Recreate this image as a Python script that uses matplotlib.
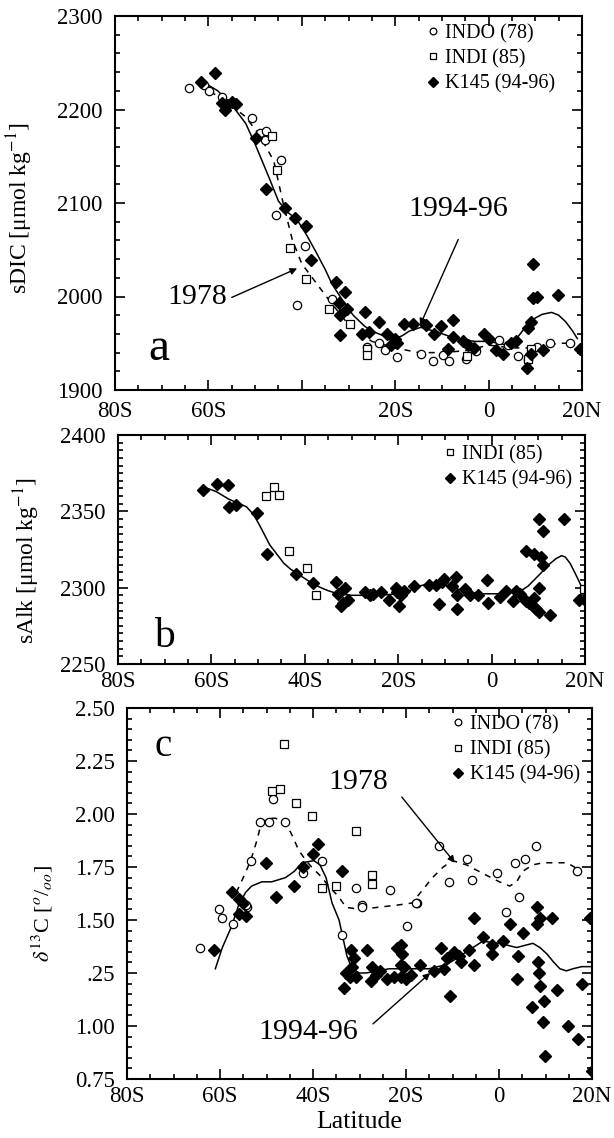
import matplotlib
matplotlib.use("Agg")
from matplotlib import pyplot as plt
from matplotlib.ticker import MultipleLocator, FixedLocator, FixedFormatter

plt.rcParams['font.family'] = ['Liberation Serif', 'DejaVu Serif']
plt.rcParams['mathtext.fontset'] = 'stix'

# ---- panel a: sDIC ----
a_indo_lat = [-64.1, -61.0, -59.8, -57.1, -50.7, -49.0, -47.7, -47.9, -44.5, -45.6, -39.4, -41.1, -33.5,
              -26.1, -23.5, -22.2, -19.7, -14.4, -11.8, -9.7, -8.4, -4.8, -2.7, 0.0, 2.2, 4.1, 6.4, 8.5,
              10.4, 13.2, 17.5]
a_indo_val = [2223, 2226, 2220, 2213, 2191, 2175, 2177, 2167, 2146, 2087, 2054, 1991, 1997,
              1946, 1950, 1943, 1935, 1938, 1931, 1937, 1931, 1933, 1942, 1955, 1954, 1948, 1936, 1932,
              1946, 1950, 1950]
a_indi_lat = [-46.4, -45.4, -42.6, -39.0, -34.1, -29.7, -26.1, -26.1, -4.6, 9.0, 8.5]
a_indi_val = [2172, 2135, 2052, 2019, 1987, 1971, 1944, 1937, 1936, 1944, 1933]
a_k145_lat = [-58.5, -61.5, -57.0, -56.0, -55.0, -54.0, -56.5, -49.9, -47.7, -43.7, -41.4, -39.2, -38.0,
              -32.7, -30.7, -32.0, -30.3, -31.8, -26.5, -31.8, -27.1, -25.6, -23.5, -21.8, -20.1, -19.7,
              -20.8, -18.2, -16.1, -13.3, -11.6, -10.2, -7.6, -8.7, -7.6, -5.5, -4.4, -3.1, -1.0, 0.0,
              1.5, 3.0, 4.7, 5.8, 8.5, 9.0, 9.6, 9.6, 10.4, 8.3, 9.0, 11.7, 14.9, 19.6]
a_k145_val = [2239, 2229, 2207, 2205, 2208, 2206, 2200, 2170, 2115, 2095, 2084, 2075, 2039,
              2016, 2005, 1993, 1987, 1980, 1983, 1959, 1960, 1962, 1973, 1960, 1955, 1950,
              1948, 1971, 1971, 1970, 1960, 1968, 1975, 1944, 1957, 1952, 1948, 1945, 1960, 1955,
              1943, 1938, 1950, 1952, 1966, 1973, 2035, 1998, 2000, 1923, 1938, 1943, 2002, 1944]
a_fit94_lat = [-61, -58, -55, -52, -50, -47, -45, -43, -41, -39, -37, -35, -33.5, -31, -29, -26.5, -24.5,
               -22, -20, -18.5, -17, -14.5, -11, -7, -3, 0, 4, 6, 8, 10, 11.5, 13.5, 15, 16.5, 18, 19]
a_fit94_val = [2229, 2220, 2205, 2185, 2163, 2127, 2102, 2090, 2082, 2066, 2048, 2029, 2013, 1994, 1980,
               1968, 1962, 1957, 1955, 1958, 1963, 1967, 1962, 1955, 1952, 1952, 1948, 1955, 1968,
               1977, 1981, 1983, 1980, 1973, 1963, 1955]
a_fit78_lat = [-62, -57, -52, -49, -46, -44, -42, -40, -37, -34, -30, -25, -20, -15, -10, -5, 0, 5,
               10, 15, 18]
a_fit78_val = [2225, 2212, 2192, 2172, 2145, 2100, 2060, 2035, 2015, 1995, 1970, 1952, 1945, 1940,
               1940, 1942, 1948, 1945, 1945, 1950, 1950]

# ---- panel b: sAlk ----
b_indi_lat = [-48.4, -46.7, -45.6, -43.4, -39.5, -37.5, 19.8]
b_indi_val = [2360, 2366, 2361, 2324, 2313, 2295, 2299]
b_k145_lat = [-61.7, -58.9, -56.5, -56.3, -54.7, -50.2, -48.0, -41.9, -38.2, -33.4, -31.4, -32.9, -31.9,
              -30.8, -32.3, -27.1, -26.0, -25.3, -23.6, -22.0, -20.5, -20.3, -19.4, -19.9, -18.8,
              -16.6, -13.3, -11.8, -10.7, -10.1, -8.5, -11.2, -7.7, -7.4, -7.4, -5.7, -4.6, -2.9,
              -0.9, -0.7, 1.9, 3.0, 4.5, 5.2, 6.1, 7.4, 9.1, 10.6, 7.4, 8.0, 8.9, 9.5, 10.2, 10.2,
              9.1, 10.2, 11.1, 15.4, 11.1, 12.4, 18.7, 20.0]
b_k145_val = [2364, 2368, 2367, 2353, 2354, 2349, 2322, 2309, 2303, 2304, 2300, 2296, 2290,
              2292, 2288, 2297, 2295, 2296, 2297, 2292, 2300, 2297, 2295, 2288, 2298,
              2301, 2302, 2302, 2304, 2306, 2301, 2289, 2307, 2295, 2286, 2299, 2295, 2295,
              2305, 2290, 2294, 2298, 2291, 2298, 2296, 2324, 2322, 2320, 2291, 2290, 2288, 2286, 2284,
              2300, 2293, 2345, 2337, 2345, 2315, 2282, 2292, 2292]
b_fit_lat = [-61.7, -59, -56.3, -54, -52.5, -51, -49.7, -47.5, -46, -44.5, -43, -41, -39, -37.3, -35,
             -32.9, -30, -27, -24, -20, -17.5, -15.5, -13, -10.5, -8, -5.3, -2, 2, 4.5, 6.3, 7.8, 9.1,
             10.7, 12.2, 13.8, 15.0, 15.8, 16.8, 17.8, 18.9, 19.8]
b_fit_val = [2366, 2363, 2358, 2355, 2353, 2348, 2341, 2328, 2322, 2316, 2312, 2308, 2304, 2301, 2298,
             2296, 2295, 2295, 2295, 2296, 2298, 2301, 2303, 2302, 2300, 2297, 2296, 2296, 2297, 2298,
             2301, 2305, 2310, 2315, 2319, 2321, 2320, 2316, 2310, 2303, 2297]

# ---- panel c: d13C ----
c_indo_lat = [-64.2, -60.3, -59.5, -57.1, -54.3, -54.5, -53.4, -51.3, -49.5, -48.5, -46.1, -42.2, -38.1,
              -33.8, -30.8, -29.5, -29.5, -23.4, -19.7, -17.6, -17.8, -13.0, -10.7, -6.8, -5.7, -0.5,
              1.6, 3.4, 5.5, 7.9, 4.4, 16.8]
c_indo_val = [1.37, 1.55, 1.51, 1.48, 1.56, 1.57, 1.78, 1.96, 1.96, 2.07, 1.96, 1.72, 1.78,
              1.43, 1.65, 1.57, 1.56, 1.64, 1.47, 1.58, 1.58, 1.85, 1.68, 1.79, 1.69, 1.72,
              1.54, 1.77, 1.79, 1.85, 1.61, 1.73]
c_indi_lat = [-46.3, -48.9, -47.2, -43.7, -40.3, -30.8, -38.1, -35.1, -27.3, -27.3]
c_indi_val = [2.33, 2.11, 2.12, 2.05, 1.99, 1.92, 1.65, 1.66, 1.71, 1.67]
c_k145_lat = [-50.2, -48.0, -44.1, -42.2, -40.0, -39.0, -33.8, -57.5, -56.0, -55.0, -61.2, -56.0, -54.5,
              -33.3, -32.9, -32.1, -31.6, -31.2, -31.8, -30.8, -28.4, -27.3, -27.5, -26.4, -25.6,
              -24.1, -22.5, -21.9, -21.0, -20.8, -21.0, -20.4, -21.0, -20.0, -18.9, -16.9, -13.9,
              -12.4, -11.8, -11.1, -10.5, -9.6, -8.5, -8.1, -6.4, -5.3, -5.3, -3.5, -1.4, -1.4, 0.8,
              2.3, 4.0, 3.8, 5.1, 7.0, 8.1, 8.1, 8.8, 8.3, 8.6, 8.8, 9.6, 9.4, 9.8, 11.4, 12.4, 14.8,
              17.0, 17.8, 19.6, 20.0]
c_k145_val = [1.77, 1.61, 1.66, 1.75, 1.81, 1.86, 1.73, 1.63, 1.60, 1.58, 1.36, 1.53, 1.52,
              1.18, 1.25, 1.23, 1.28, 1.32, 1.36, 1.23, 1.36, 1.28, 1.21, 1.24, 1.26,
              1.22, 1.23, 1.37, 1.38, 1.34, 1.29, 1.28, 1.23, 1.22, 1.24, 1.29, 1.26,
              1.37, 1.27, 1.32, 1.14, 1.35, 1.33, 1.30, 1.36, 1.51, 1.29, 1.42, 1.38, 1.34, 1.40,
              1.48, 1.33, 1.22, 1.44, 1.09, 1.56, 1.48, 1.51, 1.30, 1.25, 1.19, 1.12, 1.02, 0.86,
              1.51, 1.17, 1.00, 0.94, 1.20, 1.51, 0.79]
c_fit94_lat = [-61.0, -59.5, -57.5, -56.0, -54.5, -53.2, -51, -48.9, -45.9, -44, -42.4, -39.8, -38.5,
               -37.2, -35.9, -34.4, -32.7, -31.6, -30, -28.6, -26, -23.6, -20.0, -15.0, -11.3, -9, -7.0,
               -3.5, 0.1, 2, 3.8, 5.5, 7.3, 8.8, 10.3, 11.8, 13.1, 14.5, 15.9, 17.8, 19.6]
c_fit94_val = [1.27, 1.37, 1.47, 1.57, 1.63, 1.66, 1.68, 1.68, 1.70, 1.73, 1.77, 1.78, 1.76,
               1.70, 1.58, 1.50, 1.33, 1.27, 1.25, 1.25, 1.26, 1.27, 1.27, 1.27, 1.29, 1.32, 1.35,
               1.40, 1.39, 1.38, 1.37, 1.38, 1.39, 1.37, 1.34, 1.30, 1.27, 1.26, 1.27, 1.28, 1.28]
c_fit78_lat = [-56.5, -55, -53.4, -52, -51.1, -49.5, -48.1, -46.9, -45.9, -44.5, -43.1, -41.5, -40.3,
               -38.5, -36.6, -34.5, -32.9, -30, -26, -22, -18.7, -16.5, -14.3, -12, -10.0, -7.0,
               -3.5, 0.1, 2.3, 3.8, 5.1, 7.3, 9.4, 12, 14.6, 16.2, 17.4]
c_fit78_val = [1.63, 1.70, 1.78, 1.88, 1.96, 1.98, 1.98, 1.97, 1.96, 1.90, 1.83, 1.78, 1.75,
               1.71, 1.66, 1.61, 1.56, 1.55, 1.56, 1.57, 1.58, 1.64, 1.70, 1.75, 1.78, 1.76,
               1.72, 1.68, 1.66, 1.68, 1.73, 1.76, 1.77, 1.77, 1.77, 1.75, 1.73]

x_ticks = [-80, -60, -40, -20, 0, 20]
x_labels = ['80S', '60S', '40S', '20S', '0', '20N']
x_labels_a = ['80S', '60S', '', '20S', '0', '20N']
c_yticks = [0.75, 1.00, 1.25, 1.50, 1.75, 2.00, 2.25, 2.50]
c_ylabels = ['0.75', '1.00', '.25', '1.50', '1.75', '2.00', '2.25', '2.50']

W, H = 614, 1138
fig = plt.figure(figsize=(W / 100, H / 100), dpi=100)


def rect(l, r, t, b):
    return [l / W, 1 - b / H, (r - l) / W, (b - t) / H]


ax_a = fig.add_axes(rect(115, 582, 16, 390))
ax_b = fig.add_axes(rect(118, 585, 435, 664))
ax_c = fig.add_axes(rect(127, 592, 708, 1079))

circ = dict(marker='o', ms=6, mfc='white', mec='black', mew=0.9, ls='none')
sq = dict(marker='s', ms=5.5, mfc='white', mec='black', mew=0.9, ls='none')
dia = dict(marker='D', ms=6, mfc='black', mec='black', ls='none')
dash = dict(color='black', lw=1.1, ls=(0, (4, 4)))
solid = dict(color='black', lw=1.1)
arrow = dict(arrowstyle='-|>', color='black', lw=1, mutation_scale=10, shrinkA=0, shrinkB=0)


def style(ax, labels):
    ax.set_xlim(-80, 20)
    ax.set_xticks(x_ticks)
    ax.set_xticklabels(labels)
    ax.xaxis.set_minor_locator(MultipleLocator(5))
    ax.tick_params(which='both', direction='in', top=True, right=True, labelsize=16.5, width=1.2)
    ax.tick_params(which='major', length=7)
    ax.tick_params(which='minor', length=3.5)
    ax.tick_params(axis='x', pad=5)
    ax.tick_params(axis='y', pad=9)
    for s in ax.spines.values():
        s.set_linewidth(1.5)


def legend(ax, anchor):
    ax.legend(loc='upper right', bbox_to_anchor=anchor, frameon=False, fontsize=14.5,
              handletextpad=0.1, borderaxespad=0, borderpad=0, labelspacing=0.3,
              handlelength=1.0, markerscale=0.8)


# panel a
ax_a.plot(a_fit78_lat, a_fit78_val, **dash)
ax_a.plot(a_fit94_lat, a_fit94_val, **solid)
ax_a.plot(a_indo_lat, a_indo_val, label='INDO (78)', **circ)
ax_a.plot(a_indi_lat, a_indi_val, label='INDI (85)', **sq)
ax_a.plot(a_k145_lat, a_k145_val, label='K145 (94-96)', **dia)
ax_a.set_ylim(1900, 2300)
ax_a.set_yticks([1900, 2000, 2100, 2200, 2300])
ax_a.yaxis.set_minor_locator(MultipleLocator(20))
style(ax_a, x_labels_a)
ax_a.tick_params(axis='x', pad=8)
ax_a.set_ylabel('sDIC [μmol kg$^{-1}$]', fontsize=17)
ax_a.yaxis.set_label_coords((35 - 115) / 467, 0.487, transform=ax_a.transAxes)
legend(ax_a, (0.942, 0.979))
ax_a.text(-70.5, 1944, 'a', fontsize=34, ha='center', va='center')
ax_a.text(-62.4, 1999, '1978', fontsize=21.5, ha='center', va='center')
ax_a.annotate('', xy=(-41.0, 2030), xytext=(-55.0, 1999), arrowprops=arrow)
ax_a.text(-6.6, 2094, '1994-96', fontsize=21.5, ha='center', va='center')
ax_a.annotate('', xy=(-14.7, 1969), xytext=(-6.5, 2061), arrowprops=arrow)

# panel b
ax_b.plot(b_fit_lat, b_fit_val, **solid)
ax_b.plot(b_indi_lat, b_indi_val, label='INDI (85)', **sq)
ax_b.plot(b_k145_lat, b_k145_val, label='K145 (94-96)', **dia)
ax_b.set_ylim(2250, 2400)
ax_b.set_yticks([2250, 2300, 2350, 2400])
ax_b.yaxis.set_minor_locator(MultipleLocator(5))
style(ax_b, x_labels)
ax_b.set_ylabel('sAlk [μmol kg$^{-1}$]', fontsize=17)
ax_b.yaxis.set_label_coords((42 - 118) / 467, 0.45, transform=ax_b.transAxes)
legend(ax_b, (0.972, 0.956))
ax_b.text(-70, 2268, 'b', fontsize=30, ha='center', va='center')

# panel c
ax_c.plot(c_fit78_lat, c_fit78_val, **dash)
ax_c.plot(c_fit94_lat, c_fit94_val, **solid)
ax_c.plot(c_indo_lat, c_indo_val, label='INDO (78)', **circ)
ax_c.plot(c_indi_lat, c_indi_val, label='INDI (85)', **sq)
ax_c.plot(c_k145_lat, c_k145_val, label='K145 (94-96)', **dia)
ax_c.set_ylim(0.75, 2.50)
ax_c.yaxis.set_major_locator(FixedLocator(c_yticks))
ax_c.yaxis.set_major_formatter(FixedFormatter(c_ylabels))
ax_c.yaxis.set_minor_locator(MultipleLocator(0.05))
style(ax_c, x_labels)
ax_c.set_ylabel(r'$\delta^{13}$C [$^{o}$/$_{oo}$]', fontsize=16)
ax_c.yaxis.set_label_coords((55 - 127) / 465, 0.447, transform=ax_c.transAxes)
ax_c.set_xlabel('Latitude', fontsize=18.5, labelpad=3)
legend(ax_c, (0.974, 0.981))
ax_c.text(-72.3, 2.32, 'c', fontsize=28, ha='center', va='center')
ax_c.text(-30.3, 2.15, '1978', fontsize=21.5, ha='center', va='center')
ax_c.annotate('', xy=(-9.5, 1.77), xytext=(-20.9, 2.08), arrowprops=arrow)
ax_c.text(-41.1, 0.97, '1994-96', fontsize=21.5, ha='center', va='center')
ax_c.annotate('', xy=(-14.8, 1.25), xytext=(-27.1, 1.01), arrowprops=arrow)

fig.savefig('out.png', dpi=100)
